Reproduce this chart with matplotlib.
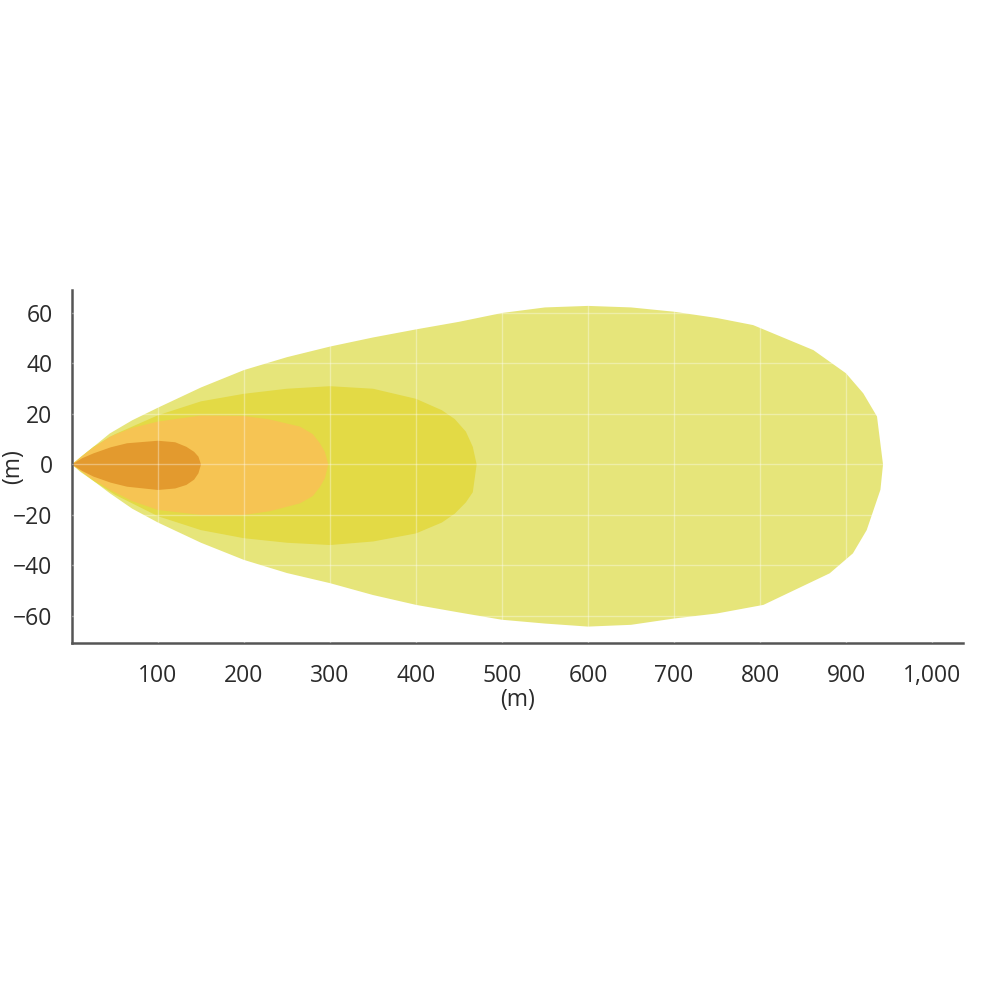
import matplotlib.pyplot as plt

# outer zone (pale yellow)
outer_x_up = [0, 10, 25, 44, 70, 100, 150, 200, 250, 300, 350, 400, 450, 500, 550, 600, 650, 700, 750, 792, 862, 900, 920, 936, 943]
outer_up = [0, 3, 7, 12.3, 17.5, 22.5, 30.5, 37.4, 42.5, 46.7, 50.3, 53.5, 56.5, 60, 62.2, 62.8, 62.2, 60.5, 58, 55.2, 45.3, 36.1, 28.2, 19, 0]
outer_x_lo = [0, 10, 25, 44, 70, 100, 150, 200, 250, 300, 350, 400, 450, 500, 550, 600, 650, 700, 750, 804, 881, 908, 924, 940, 943]
outer_lo = [0, -3, -6.5, -11.4, -17.5, -23, -31, -37.8, -43, -47, -51.7, -55.6, -58.6, -61.5, -63, -64.2, -63.5, -61, -59, -55.6, -43.1, -35.2, -26, -10, 0]

# second zone (yellow)
zone2_x = [0, 25, 50, 100, 150, 200, 250, 300, 350, 400, 430, 445, 458, 466, 470.5]
zone2_up = [0, 7, 12, 19.5, 25, 28, 30, 31, 30, 26, 21.5, 18, 13, 7, 0]
zone2_lo = [0, -6.5, -12, -20.5, -26, -29.2, -31, -31.9, -30.5, -27.3, -23, -19.5, -15, -11, 0]

# third zone (orange)
zone3_x = [0, 20, 44, 70, 100, 150, 200, 230, 265, 280, 288, 294, 298]
zone3_up = [0, 5.5, 11, 14.5, 17, 19.4, 19.2, 17.8, 15, 12, 8.5, 5, 0]
zone3_lo = [0, -5, -10, -14.5, -18, -20, -20, -18.5, -15.4, -12.5, -9, -5.5, 0]

# inner zone (dark orange)
zone4_x = [0, 12, 25, 45, 64, 100, 120, 133, 142, 147, 150]
zone4_up = [0, 2.5, 4.4, 6.8, 8.4, 9.4, 8.8, 7, 5, 3.1, 0]
zone4_lo = [0, -2.6, -4.8, -7.2, -8.8, -10.1, -9.5, -8.1, -6, -3.5, 0]

x_ticks = [100, 200, 300, 400, 500, 600, 700, 800, 900, 1000]
x_labels = ["100", "200", "300", "400", "500", "600", "700", "800", "900", "1,000"]
y_ticks = [-60, -40, -20, 0, 20, 40, 60]

zones = [
    (outer_x_up, outer_up, outer_x_lo, outer_lo, "#E6E57A"),
    (zone2_x, zone2_up, zone2_x, zone2_lo, "#E3DA45"),
    (zone3_x, zone3_up, zone3_x, zone3_lo, "#F6C453"),
    (zone4_x, zone4_up, zone4_x, zone4_lo, "#E39A2E"),
]

plt.rcParams['font.family'] = ['Open Sans', 'DejaVu Sans']

fig = plt.figure(figsize=(10, 10), dpi=100)
ax = fig.add_axes([0.072, 0.357, 0.891, 0.353])

for xu, up, xl, lo, col in zones:
    px = list(xu) + list(xl[::-1])
    py = list(up) + list(lo[::-1])
    ax.fill(px, py, color=col, lw=0, zorder=1)

ax.set_xlim(0, 1036)
ax.set_ylim(-70.7, 69.1)
ax.set_xticks(x_ticks)
ax.set_xticklabels(x_labels)
ax.set_yticks(y_ticks)

# faint white grid over the zones
for xv in x_ticks:
    ax.axvline(xv, color="white", alpha=0.35, lw=1, zorder=3)
for yv in y_ticks:
    ax.axhline(yv, color="white", alpha=0.35, lw=1, zorder=3)

for s in ["top", "right"]:
    ax.spines[s].set_visible(False)
for s in ["left", "bottom"]:
    ax.spines[s].set_color("#555555")
    ax.spines[s].set_linewidth(1.8)

ax.tick_params(axis="both", length=0, labelsize=16.5, labelcolor="#2b2b2b")
ax.tick_params(axis="x", pad=15)
ax.tick_params(axis="y", pad=14)

ax.set_xlabel("(m)", fontsize=16.5, color="#2b2b2b", labelpad=0)
ax.set_ylabel("(m)", fontsize=16.5, color="#2b2b2b")
ax.yaxis.set_label_coords(-0.053, 0.5)

fig.savefig("out.png", dpi=100, facecolor="white")
